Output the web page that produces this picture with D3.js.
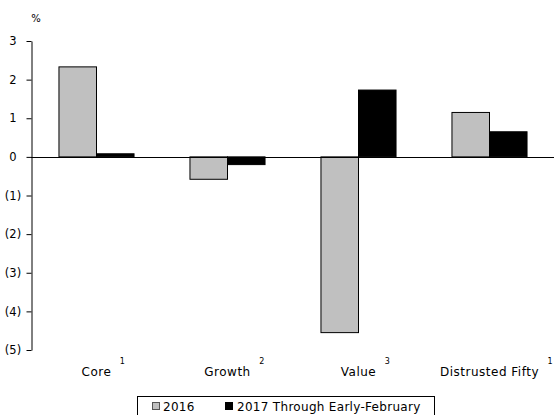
<!DOCTYPE html>
<html>
<head>
<meta charset="utf-8">
<script src="https://cdn.jsdelivr.net/npm/d3@7"></script>
<style>
  html, body { margin: 0; padding: 0; background: #fff; }
  svg { display: block; font-family: "DejaVu Sans", Verdana, sans-serif; }
</style>
</head>
<body>
<svg id="chart" width="554" height="415"></svg>
<script>
// Return contributions by basket, in percent
const categories = ["Core", "Growth", "Value", "Distrusted Fifty"];
const footnotes = ["1", "2", "3", "1"];
const seriesNames = ["2016", "2017 Through Early-February"];
const values2016 = [2.33, -0.58, -4.55, 1.15];
const values2017 = [0.08, -0.20, 1.73, 0.65];
const yTicks = [-5, -4, -3, -2, -1, 0, 1, 2, 3];
const seriesColors = ["#c0c0c0", "#000000"];

const svg = d3.select("#chart");
const axisX = 31, plotRight = 555, plotTop = 41, plotBottom = 350;

const y = d3.scaleLinear().domain([-5, 3]).range([plotBottom, plotTop]);
const x0 = d3.scaleBand().domain(categories).range([axisX, plotRight]).padding(0);
const x1 = d3.scaleBand().domain(seriesNames).range([0, x0.bandwidth()])
  .paddingInner(0).paddingOuter(0.745);

const rows = categories.map((c, i) => ({
  cat: c,
  vals: [
    { s: seriesNames[0], v: values2016[i], color: seriesColors[0] },
    { s: seriesNames[1], v: values2017[i], color: seriesColors[1] }
  ]
}));

// Bars
const groups = svg.append("g").selectAll("g").data(rows).join("g")
  .attr("transform", d => `translate(${x0(d.cat)},0)`);
groups.selectAll("rect").data(d => d.vals).join("rect")
  .attr("x", d => x1(d.s))
  .attr("width", x1.bandwidth())
  .attr("y", d => Math.min(y(d.v), y(0)))
  .attr("height", d => Math.abs(y(d.v) - y(0)))
  .attr("fill", d => d.color)
  .attr("stroke", "#000")
  .attr("stroke-width", 1);

// Zero line
svg.append("line")
  .attr("x1", axisX).attr("x2", plotRight)
  .attr("y1", Math.round(y(0)) + 0.5).attr("y2", Math.round(y(0)) + 0.5)
  .attr("stroke", "#000").attr("stroke-width", 1);

// Y axis
const fmt = v => v < 0 ? `(${Math.abs(v)})` : `${v}`;
const yAxis = svg.append("g")
  .attr("transform", `translate(${axisX + 0.5},0)`)
  .call(d3.axisLeft(y).tickValues(yTicks).tickSize(5).tickSizeOuter(0).tickFormat(fmt));
yAxis.select(".domain").attr("stroke", "#000");
yAxis.selectAll(".tick line").attr("stroke", "#000");
yAxis.selectAll(".tick text")
  .attr("x", -18.5).attr("text-anchor", "middle")
  .attr("font-size", 11.5).attr("font-family", "DejaVu Sans, sans-serif").attr("fill", "#000");

// Unit label
svg.append("text").attr("x", 36).attr("y", 22).attr("text-anchor", "middle")
  .attr("font-size", 10).text("%");

// Category labels with footnote markers
const catLabels = svg.append("g").selectAll("g").data(categories).join("g");
catLabels.each(function(c, i) {
  const g = d3.select(this);
  const cx = x0(c) + x0.bandwidth() / 2;
  const t = g.append("text").attr("x", cx).attr("y", 376)
    .attr("text-anchor", "middle").attr("font-size", 12)
    .attr("letter-spacing", 0.5).text(c);
  const w = t.node().getComputedTextLength();
  g.append("text").attr("x", cx + w / 2 + 11).attr("y", 364)
    .attr("text-anchor", "middle").attr("font-size", 8).text(footnotes[i]);
});

// Legend
const legend = svg.append("g");
legend.append("rect").attr("x", 137.5).attr("y", 396.5).attr("width", 297).attr("height", 30)
  .attr("fill", "#fff").attr("stroke", "#000");
const legendItems = [
  { name: seriesNames[0], color: seriesColors[0], sx: 152, tx: 163 },
  { name: seriesNames[1], color: seriesColors[1], sx: 225, tx: 237 }
];
legendItems.forEach(d => {
  legend.append("rect").attr("x", d.sx + 0.5).attr("y", 402.5).attr("width", 7).attr("height", 7)
    .attr("fill", d.color).attr("stroke", d.color === "#000000" ? "#000" : "#555");
  legend.append("text").attr("x", d.tx).attr("y", 410.5).attr("font-size", 12)
    .attr("letter-spacing", 0.3).text(d.name);
});
</script>
</body>
</html>
